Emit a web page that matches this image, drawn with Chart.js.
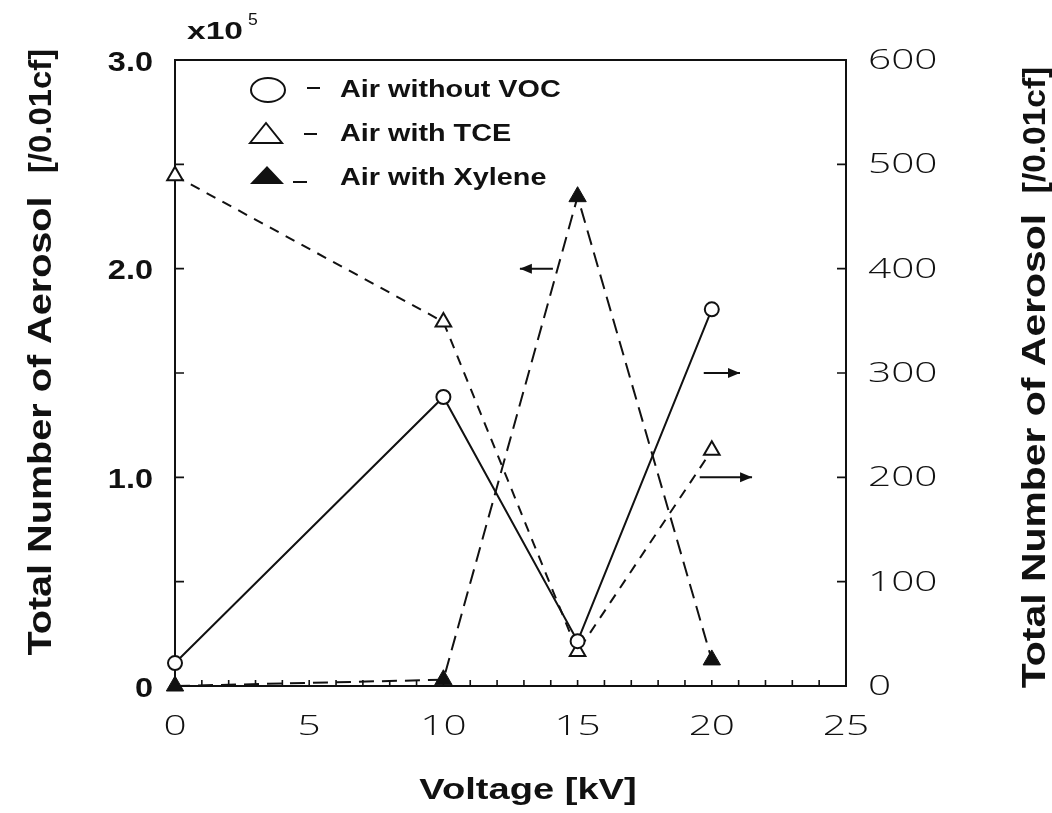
<!DOCTYPE html>
<html>
<head>
<meta charset="utf-8">
<script src="https://cdn.jsdelivr.net/npm/chart.js@4/dist/chart.umd.min.js"></script>
<style>
  html, body { margin: 0; padding: 0; background: #ffffff; }
  canvas { display: block; }
</style>
</head>
<body>
<canvas id="chart" width="1052" height="813"></canvas>
<script>
// Applied voltage [kV]
const voltage = [0, 10, 15, 20];

// Aerosol counts per 0.01 cf (right axis)
const airWithoutVoc = [22, 277, 43, 361];
const airWithTce = [489, 349, 33, 226];

// Aerosol counts per 0.01 cf, in units of 10^5 (left axis)
const airWithXylene = [0, 0.03, 2.345, 0.125];

// Axis ticks
const xTickValues = [0, 5, 10, 15, 20, 25];
const xTickLabels = ['0', '5', '10', '15', '20', '25'];
const leftTickValues = [0, 1, 2, 3];
const leftTickLabels = ['0', '1.0', '2.0', '3.0'];
const rightTickValues = [0, 100, 200, 300, 400, 500, 600];
const rightTickLabels = ['0', '100', '200', '300', '400', '500', '600'];

const seriesNames = ['Air without VOC', 'Air with TCE', 'Air with Xylene'];

// Arrows telling which axis each curve is read against: [fromKV, toKV, level, axis]
const axisArrows = [
  [14.08, 12.85, 2.0, 'y'],
  [19.7, 21.05, 300, 'y2'],
  [19.55, 21.5, 200, 'y2']
];

const toPoints = (xs, ys) => xs.map((x, i) => ({ x: x, y: ys[i] }));

function drawText(ctx, text, x, y, font, align, stretch, rot) {
  ctx.save();
  ctx.translate(x, y);
  if (rot) ctx.rotate(rot);
  ctx.scale(stretch || 1, 1);
  ctx.font = font;
  ctx.fillStyle = '#111';
  ctx.textAlign = align || 'center';
  ctx.textBaseline = 'middle';
  ctx.fillText(text, 0, 0);
  ctx.restore();
}

function arrowHead(ctx, x, y, dir) {
  ctx.beginPath();
  ctx.moveTo(x, y);
  ctx.lineTo(x - dir * 12, y - 5);
  ctx.lineTo(x - dir * 12, y + 5);
  ctx.closePath();
  ctx.fill();
}

const framePlugin = {
  id: 'frame',
  beforeDatasetsDraw(chart) {
    const ctx = chart.ctx;
    const a = chart.chartArea;
    const sx = chart.scales.x, sy = chart.scales.y, sy2 = chart.scales.y2;
    ctx.save();
    ctx.strokeStyle = '#111';
    ctx.lineWidth = 2;
    ctx.strokeRect(a.left, a.top, a.right - a.left, a.bottom - a.top);
    ctx.lineWidth = 1.6;
    ctx.beginPath();
    for (let v = 1; v < 25; v++) {
      const px = sx.getPixelForValue(v);
      ctx.moveTo(px, a.bottom);
      ctx.lineTo(px, a.bottom - 6);
    }
    for (let v = 0.5; v < 3; v += 0.5) {
      const py = sy.getPixelForValue(v);
      ctx.moveTo(a.left, py);
      ctx.lineTo(a.left + 9, py);
    }
    for (let v = 100; v < 600; v += 100) {
      const py = sy2.getPixelForValue(v);
      ctx.moveTo(a.right, py);
      ctx.lineTo(a.right - 9, py);
    }
    ctx.stroke();
    ctx.restore();
  },
  afterDraw(chart) {
    const ctx = chart.ctx;
    const a = chart.chartArea;
    const sx = chart.scales.x, sy = chart.scales.y, sy2 = chart.scales.y2;
    const thin = '300 28px "Open Sans", Lato, sans-serif';
    const bold = (s) => 'bold ' + s + 'px "Liberation Sans", Arial, sans-serif';

    // x tick labels
    xTickValues.forEach((v, i) => {
      drawText(ctx, xTickLabels[i], sx.getPixelForValue(v), a.bottom + 41, thin, 'center', 1.45);
    });
    // left tick labels
    leftTickValues.forEach((v, i) => {
      drawText(ctx, leftTickLabels[i], 153, sy.getPixelForValue(v) + 3, bold(28), 'right', 1.16);
    });
    // right tick labels
    rightTickValues.forEach((v, i) => {
      drawText(ctx, rightTickLabels[i], a.right + 22, sy2.getPixelForValue(v) + 1, thin, 'left', 1.45);
    });

    // multiplier
    drawText(ctx, 'x10', 187, 32, bold(24), 'left', 1.4);
    drawText(ctx, '5', 248, 21, '16px "Liberation Sans", Arial, sans-serif', 'left', 1.1);

    // axis titles
    drawText(ctx, 'Voltage [kV]', 528, 791, bold(30), 'center', 1.27);
    drawText(ctx, 'Total Number of Aerosol', 42, 426, bold(33), 'center', 1.2, -Math.PI / 2);
    drawText(ctx, '[/0.01cf]', 42, 111, bold(31), 'center', 1.06, -Math.PI / 2);
    drawText(ctx, 'Total Number of Aerosol', 1036, 451, bold(33), 'center', 1.24, -Math.PI / 2);
    drawText(ctx, '[/0.01cf]', 1036, 130, bold(31), 'center', 1.08, -Math.PI / 2);

    // legend
    ctx.save();
    ctx.strokeStyle = '#111';
    ctx.fillStyle = '#111';
    ctx.lineWidth = 2;
    ctx.beginPath();
    ctx.ellipse(268, 90, 17, 12, 0, 0, Math.PI * 2);
    ctx.stroke();
    ctx.beginPath();
    ctx.moveTo(250, 143); ctx.lineTo(266, 123); ctx.lineTo(282, 143); ctx.closePath();
    ctx.stroke();
    ctx.beginPath();
    ctx.moveTo(250, 184); ctx.lineTo(267, 166); ctx.lineTo(284, 184); ctx.closePath();
    ctx.fill();
    ctx.beginPath();
    ctx.moveTo(307, 88); ctx.lineTo(320, 88);
    ctx.moveTo(304, 134); ctx.lineTo(317, 134);
    ctx.moveTo(293, 182); ctx.lineTo(307, 182);
    ctx.stroke();
    ctx.restore();
    const ly = [90, 134, 178];
    seriesNames.forEach((n, i) => drawText(ctx, n, 340, ly[i], bold(24), 'left', 1.2));

    // axis arrows
    ctx.save();
    ctx.strokeStyle = '#111';
    ctx.fillStyle = '#111';
    ctx.lineWidth = 2;
    axisArrows.forEach(([x0, x1, v, ax]) => {
      const scale = chart.scales[ax];
      const p0 = sx.getPixelForValue(x0), p1 = sx.getPixelForValue(x1);
      const py = scale.getPixelForValue(v);
      ctx.beginPath();
      ctx.moveTo(p0, py); ctx.lineTo(p1, py);
      ctx.stroke();
      arrowHead(ctx, p1, py, Math.sign(p1 - p0));
    });
    ctx.restore();
  }
};

new Chart(document.getElementById('chart'), {
  type: 'line',
  data: {
    datasets: [
      {
        label: seriesNames[0],
        data: toPoints(voltage, airWithoutVoc),
        yAxisID: 'y2',
        borderColor: '#111', borderWidth: 2,
        pointStyle: 'circle', pointRadius: 7,
        pointBorderColor: '#111', pointBackgroundColor: '#fff', pointBorderWidth: 2,
        tension: 0, clip: false
      },
      {
        label: seriesNames[1],
        data: toPoints(voltage, airWithTce),
        yAxisID: 'y2',
        borderColor: '#111', borderWidth: 2, borderDash: [10, 8],
        pointStyle: 'triangle', pointRadius: 9,
        pointBorderColor: '#111', pointBackgroundColor: '#fff', pointBorderWidth: 2,
        tension: 0, clip: false
      },
      {
        label: seriesNames[2],
        data: toPoints(voltage, airWithXylene),
        yAxisID: 'y',
        borderColor: '#111', borderWidth: 2, borderDash: [15, 8],
        pointStyle: 'triangle', pointRadius: 10,
        pointBorderColor: '#111', pointBackgroundColor: '#111', pointBorderWidth: 1,
        tension: 0, clip: false
      }
    ]
  },
  options: {
    responsive: false,
    animation: false,
    devicePixelRatio: 1,
    layout: { autoPadding: false, padding: { left: 175, right: 206, top: 60, bottom: 127 } },
    plugins: { legend: { display: false }, tooltip: { enabled: false } },
    scales: {
      x: { type: 'linear', min: 0, max: 25, display: false },
      y: { type: 'linear', min: 0, max: 3, display: false },
      y2: { type: 'linear', min: 0, max: 600, display: false, position: 'right' }
    }
  },
  plugins: [framePlugin]
});
</script>
</body>
</html>
